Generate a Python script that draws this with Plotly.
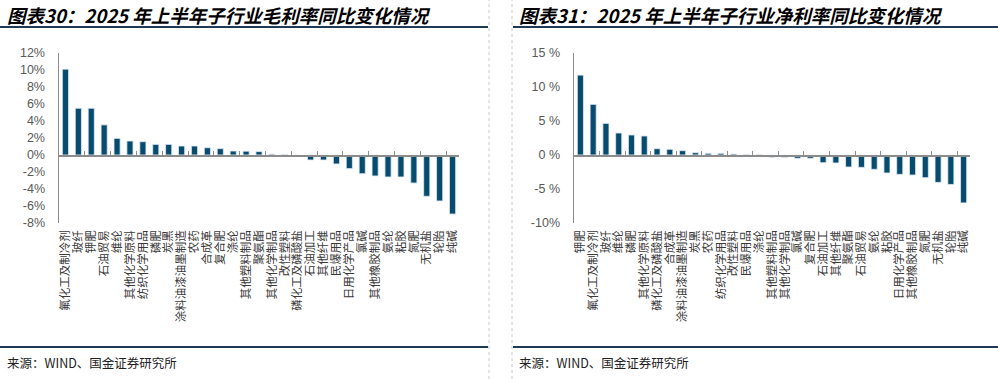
import plotly.graph_objects as go

# ---------------- data ----------------
cats_gm = ["氟化工及制冷剂", "玻纤", "钾肥", "石油贸易", "维纶", "其他化学原料", "纺织化学用品",
           "磷肥", "炭黑", "涂料油漆油墨制造", "农药", "合成革", "复合肥", "涤纶", "其他塑料制品",
           "聚氨酯", "其他化学制品", "改性塑料", "磷化工及磷酸盐", "石油加工", "其他纤维", "民爆用品",
           "日用化学产品", "氯碱", "其他橡胶制品", "氨纶", "粘胶", "氮肥", "无机盐", "轮胎", "纯碱"]
vals_gm = [10.1, 5.5, 5.5, 3.55, 1.96, 1.65, 1.57, 1.25, 1.25, 1.06, 1.06, 0.86, 0.75, 0.47, 0.45,
           0.4, 0.1, 0.05, -0.12, -0.59, -0.59, -1.06, -1.6, -2.2, -2.47, -2.59, -2.59, -3.3, -4.86,
           -5.41, -6.95]

cats_nm = ["钾肥", "氟化工及制冷剂", "玻纤", "维纶", "磷肥", "其他化学原料", "磷化工及磷酸盐",
           "合成革", "涂料油漆油墨制造", "炭黑", "农药", "纺织化学用品", "改性塑料", "民爆用品", "涤纶",
           "其他塑料制品", "其他化学制品", "氯碱", "复合肥", "石油加工", "其他纤维", "聚氨酯", "石油贸易",
           "氨纶", "粘胶", "日用化学产品", "其他橡胶制品", "氮肥", "无机盐", "轮胎", "纯碱"]
vals_nm = [11.75, 7.45, 4.65, 3.24, 2.95, 2.8, 0.93, 0.84, 0.64, 0.34, 0.25, 0.25, 0.15, 0.06, 0.03,
           -0.34, -0.34, -0.49, -0.49, -1.13, -1.18, -1.77, -1.82, -2.11, -2.65, -2.85, -2.95, -3.34,
           -4.03, -4.33, -7.05]

ytick_gm_vals = [-8, -6, -4, -2, 0, 2, 4, 6, 8, 10, 12]
ytick_gm_text = ["-8%", "-6%", "-4%", "-2%", "0%", "2%", "4%", "6%", "8%", "10%", "12%"]
ytick_nm_vals = [-10, -5, 0, 5, 10, 15]
ytick_nm_text = ["-10%", "-5 %", "0 %", "5 %", "10 %", "15 %"]

title_gm = "图表30：2025 年上半年子行业毛利率同比变化情况"
title_nm = "图表31：2025 年上半年子行业净利率同比变化情况"
source_text = "来源：WIND、国金证券研究所"

# ---------------- layout helpers ----------------
W, H = 998, 379


def px(x):
    return x / W


def py(y):
    return 1 - y / H


BAR = "#074B6F"
AXIS = "#8C8C8C"
NAVY = "#1E3A56"
CJK = "Noto Sans CJK SC"
LAT = "Arial, Liberation Sans, sans-serif"

ydom = [py(223), py(53)]
yr_gm = [min(ytick_gm_vals), max(ytick_gm_vals)]
yr_nm = [min(ytick_nm_vals), max(ytick_nm_vals)]


def zero_pos(r):
    return ydom[0] + (0 - r[0]) / (r[1] - r[0]) * (ydom[1] - ydom[0])


fig = go.Figure()
fig.add_bar(x=cats_gm, y=vals_gm, xaxis="x", yaxis="y", marker_color=BAR, width=0.48,
            hoverinfo="skip")
fig.add_bar(x=cats_gm, y=vals_gm, xaxis="x3", yaxis="y", marker_color="rgba(0,0,0,0)",
            width=0.48, hoverinfo="skip")
fig.add_bar(x=cats_nm, y=vals_nm, xaxis="x2", yaxis="y2", marker_color=BAR, width=0.48,
            hoverinfo="skip")
fig.add_bar(x=cats_nm, y=vals_nm, xaxis="x4", yaxis="y2", marker_color="rgba(0,0,0,0)",
            width=0.48, hoverinfo="skip")

xlab = dict(type="category", tickangle=-90, showgrid=False, zeroline=False, showline=False,
            ticks="", tickfont=dict(family=CJK, size=11.5, color="#3A3A3A"),
            ticklabelstandoff=4, automargin=False, fixedrange=True)
zline = dict(type="category", anchor="free", side="bottom", showline=True, linecolor=AXIS,
             linewidth=1.5, ticks="inside", ticklen=4, tickcolor=AXIS, tickwidth=1,
             tickson="boundaries", showticklabels=False, showgrid=False, zeroline=False,
             automargin=False)
ylab = dict(domain=ydom, showgrid=False, zeroline=False, showline=True, linecolor=AXIS,
            linewidth=1.5, ticks="", tickfont=dict(family=LAT, size=12.5, color="#595959"),
            ticklabelstandoff=10, automargin=False)

fig.update_layout(
    width=W, height=H, margin=dict(l=0, r=0, t=0, b=0),
    paper_bgcolor="white", plot_bgcolor="rgba(0,0,0,0)", showlegend=False, barmode="overlay",
    xaxis=dict(domain=[px(59), px(459)], anchor="y", tickmode="array", tickvals=cats_gm,
               ticktext=cats_gm, **xlab),
    xaxis2=dict(domain=[px(574), px(970)], anchor="y2", tickmode="array", tickvals=cats_nm,
                ticktext=cats_nm, **xlab),
    xaxis3=dict(overlaying="x", position=zero_pos(yr_gm), **zline),
    xaxis4=dict(overlaying="x2", position=zero_pos(yr_nm), **zline),
    yaxis=dict(anchor="x", range=yr_gm, tickvals=ytick_gm_vals, ticktext=ytick_gm_text, **ylab),
    yaxis2=dict(anchor="x2", range=yr_nm, tickvals=ytick_nm_vals, ticktext=ytick_nm_text, **ylab),
)

# titles and sources
for txt, x0 in [(title_gm, 5), (title_nm, 517)]:
    fig.add_annotation(text=txt, xref="paper", yref="paper", x=px(x0), y=py(14.5),
                       xanchor="left", yanchor="middle", showarrow=False,
                       font=dict(family=CJK, size=18.5, color="#000000", weight="bold",
                                 style="italic"))
for x0 in [5, 517]:
    fig.add_annotation(text=source_text, xref="paper", yref="paper", x=px(x0), y=py(362),
                       xanchor="left", yanchor="middle", showarrow=False,
                       font=dict(family=CJK, size=12.5, color="#222222"))

# decorative rules
for yy in [27, 347]:
    fig.add_shape(type="line", xref="paper", yref="paper", x0=0, x1=px(488), y0=py(yy),
                  y1=py(yy), line=dict(color=NAVY, width=2))
    fig.add_shape(type="line", xref="paper", yref="paper", x0=px(513), x1=1, y0=py(yy),
                  y1=py(yy), line=dict(color=NAVY, width=2))
for xx in [489, 512]:
    fig.add_shape(type="line", xref="paper", yref="paper", x0=px(xx), x1=px(xx), y0=0, y1=1,
                  line=dict(color="#C8C8C8", width=1, dash="3px,3px"))

# remove the browser's default 8px body margin so the figure sits at the window origin
fig.write_html("out.html",
               config={"displayModeBar": False, "staticPlot": True},
               post_script="document.body.style.margin='0';document.body.style.overflow='hidden';")
